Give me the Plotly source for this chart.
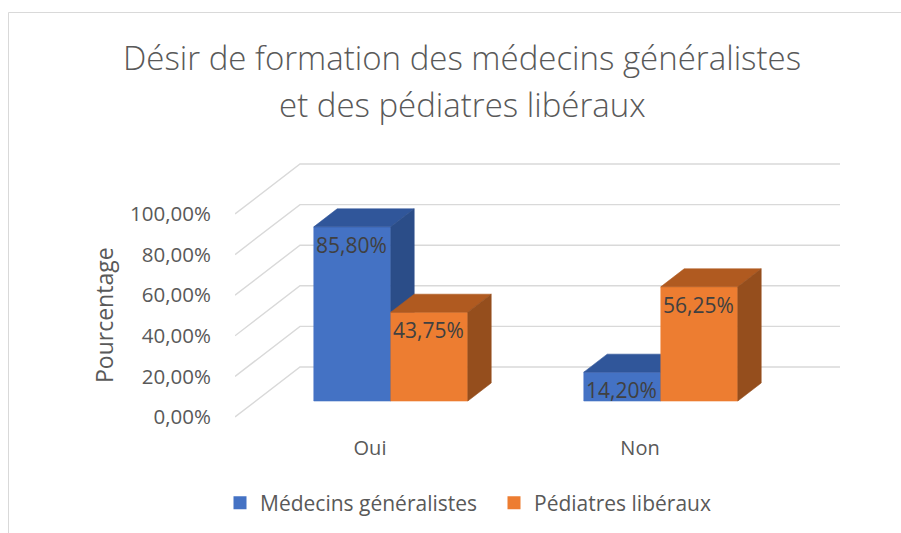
import plotly.graph_objects as go

# ---- data -------------------------------------------------------------
categories = ["Oui", "Non"]
series_names = ["Médecins généralistes", "Pédiatres libéraux"]
medecins_generalistes = [85.80, 14.20]
pediatres_liberaux = [43.75, 56.25]
y_ticks = [0, 20, 40, 60, 80, 100]

series_values = [medecins_generalistes, pediatres_liberaux]

# ---- styling ----------------------------------------------------------
FONT = "Open Sans"
TEXT_GREY = "#595959"
LABEL_GREY = "#404040"
GRID_GREY = "#d9d9d9"
FACE_COLORS = [
    # front, top, side
    ("#4472C4", "#30569A", "#2B4D88"),
    ("#ED7D31", "#B05A20", "#954E1D"),
]

# ---- page geometry (pixels) -----------------------------------------
FIG_W, FIG_H = 901, 533
PX_LEFT, PX_RIGHT = 235, 840
PX_TOP, PX_BOTTOM = 150, 434
Y_ZERO_PX = 417          # front floor line
PX_PER_PCT = 2.03        # vertical scale
CAT_PX = 270             # width of one category band on the front plane
DEPTH_DX_PX, DEPTH_DY_PX = 65, 50   # oblique offset of the back wall

# conversions into axis units
DX = DEPTH_DX_PX / CAT_PX
DY = DEPTH_DY_PX / PX_PER_PCT
x_range = [-0.5, -0.5 + (PX_RIGHT - PX_LEFT) / CAT_PX]
y_range = [-(PX_BOTTOM - Y_ZERO_PX) / PX_PER_PCT, (Y_ZERO_PX - PX_TOP) / PX_PER_PCT]

BAR_W = 77 / CAT_PX      # width of a single bar
F_FRONT, F_BACK = 0.32, 0.68   # depth slice occupied by the bars


def proj(x, y, f):
    """Oblique projection of a point lying at depth fraction f."""
    return x + f * DX, y + f * DY


def px_to_paper_x(px):
    return (px - PX_LEFT) / (PX_RIGHT - PX_LEFT)


def px_to_paper_y(py):
    return (PX_BOTTOM - py) / (PX_BOTTOM - PX_TOP)


def fmt_pct(v):
    return f"{v:.2f}".replace(".", ",") + "%"


fig = go.Figure()

# ---- 3D grid: diagonal on the side wall + horizontal on the back wall --
gx, gy = [], []
n_cat = len(categories)
for v in y_ticks:
    x_front = -0.5
    x_back_l, y_back = proj(x_front, v, 1.0)
    x_back_r = x_back_l + n_cat
    gx += [x_front, x_back_l, x_back_r, None]
    gy += [v, y_back, y_back, None]
fig.add_trace(go.Scatter(
    x=gx, y=gy, mode="lines", line=dict(color=GRID_GREY, width=1.4),
    hoverinfo="skip", showlegend=False, cliponaxis=False,
))

# ---- 3D bars ---------------------------------------------------------
annotations = []


def add_face(pts, color):
    xs = [p[0] for p in pts] + [pts[0][0]]
    ys = [p[1] for p in pts] + [pts[0][1]]
    fig.add_trace(go.Scatter(
        x=xs, y=ys, mode="lines", fill="toself", fillcolor=color,
        line=dict(color=color, width=0.6), hoverinfo="skip",
        showlegend=False, cliponaxis=False,
    ))


for i, cat in enumerate(categories):
    for j, vals in enumerate(series_values):
        v = vals[i]
        front_c, top_c, side_c = FACE_COLORS[j]
        x0 = i - BAR_W * len(series_values) / 2 + j * BAR_W
        x1 = x0 + BAR_W
        front = [proj(x0, 0, F_FRONT), proj(x1, 0, F_FRONT),
                 proj(x1, v, F_FRONT), proj(x0, v, F_FRONT)]
        top = [proj(x0, v, F_FRONT), proj(x1, v, F_FRONT),
               proj(x1, v, F_BACK), proj(x0, v, F_BACK)]
        side = [proj(x1, 0, F_FRONT), proj(x1, v, F_FRONT),
                proj(x1, v, F_BACK), proj(x1, 0, F_BACK)]
        add_face(front, front_c)
        add_face(top, top_c)
        add_face(side, side_c)

        lx, ly = proj((x0 + x1) / 2, v, F_FRONT)
        annotations.append(dict(
            x=lx, y=ly, xref="x", yref="y", text=fmt_pct(v),
            showarrow=False, xanchor="center", yanchor="middle",
            xshift=-1, yshift=-18,
            font=dict(family=FONT, size=21, color=LABEL_GREY),
        ))

# ---- legend entries ----------------------------------------------------
for j, name in enumerate(series_names):
    fig.add_trace(go.Scatter(
        x=[None], y=[None], mode="markers", name=name,
        marker=dict(symbol="square", size=13, color=FACE_COLORS[j][0]),
    ))

# ---- title (two lines) and axis title --------------------------------
title_lines = ["Désir de formation des médecins généralistes",
               "et des pédiatres libéraux"]
for k, (line, py) in enumerate(zip(title_lines, [57, 104])):
    annotations.append(dict(
        x=px_to_paper_x(462), y=px_to_paper_y(py), xref="paper", yref="paper",
        text=line, showarrow=False, xanchor="center", yanchor="middle",
        font=dict(family=FONT, size=33, color=TEXT_GREY, weight=300),
    ))

annotations.append(dict(
    x=px_to_paper_x(104), y=px_to_paper_y(315), xref="paper", yref="paper",
    text="Pourcentage", textangle=-90, showarrow=False,
    xanchor="center", yanchor="middle",
    font=dict(family=FONT, size=23, color=TEXT_GREY),
))

# chart frame
shapes = [dict(
    type="rect", xref="paper", yref="paper",
    x0=px_to_paper_x(8.5), x1=px_to_paper_x(910),
    y0=px_to_paper_y(545), y1=px_to_paper_y(12.5),
    line=dict(color=GRID_GREY, width=1), fillcolor="rgba(0,0,0,0)", layer="below",
)]

fig.update_layout(
    width=FIG_W, height=FIG_H,
    margin=dict(l=PX_LEFT, r=FIG_W - PX_RIGHT, t=PX_TOP, b=FIG_H - PX_BOTTOM, pad=0),
    paper_bgcolor="white", plot_bgcolor="white",
    separators=", ",
    font=dict(family=FONT, color=TEXT_GREY),
    xaxis=dict(
        range=x_range, showgrid=False, zeroline=False, showline=False,
        tickmode="array", tickvals=list(range(n_cat)), ticktext=categories,
        ticks="", ticklen=0,
        tickfont=dict(family=FONT, size=20, color=TEXT_GREY),
        fixedrange=True,
    ),
    yaxis=dict(
        range=y_range, showgrid=False, zeroline=False, showline=False,
        tickmode="array", tickvals=y_ticks, ticktext=[fmt_pct(v) for v in y_ticks],
        ticks="outside", ticklen=19, tickcolor="rgba(0,0,0,0)",
        tickfont=dict(family=FONT, size=20.5, color=TEXT_GREY),
        fixedrange=True,
    ),
    showlegend=True,
    legend=dict(
        orientation="h", xref="container", yref="container",
        x=220 / FIG_W, y=(FIG_H - 503) / FIG_H, xanchor="left", yanchor="middle",
        entrywidth=229, entrywidthmode="pixels",
        font=dict(family=FONT, size=21, color=TEXT_GREY),
        bgcolor="rgba(0,0,0,0)", itemclick=False, itemdoubleclick=False,
    ),
    annotations=annotations,
    shapes=shapes,
)

fig.write_html("out.html")
